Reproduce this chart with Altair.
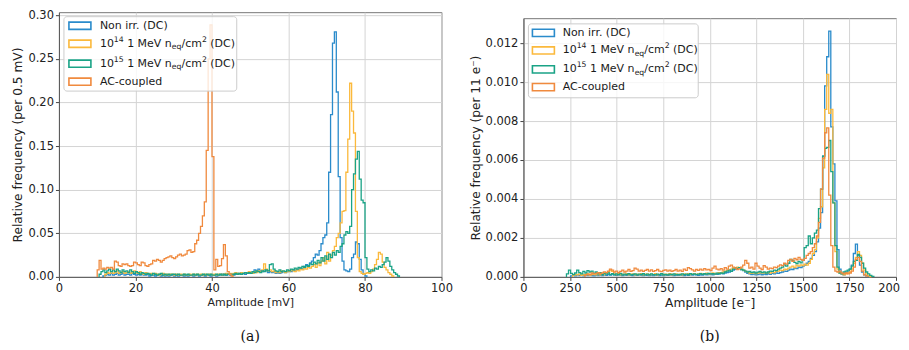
import altair as alt
import pandas as pd

# ---------------- data: left panel (bin width 0.5 mV, values in 1e-3) ----------------
LEFT_BIN = 0.5
LEFT_UNIT = 1e-3

NONIRR_L_START = 11.5
NONIRR_L = [1, 2, 3, 2, 4, 2, 3, 4, 2, 3, 4, 2, 3, 3, 2, 4, 3, 2, 3, 2, 3, 2, 2, 3, 1, 2, 2, 1, 2, 2,
            1, 2, 1, 2, 1, 2, 2, 1, 2, 1, 2, 2, 1, 2, 1, 2, 2, 1, 2, 2, 1, 2, 2, 1, 2, 2, 1, 2, 2, 1,
            2, 2, 3, 2, 2, 3, 2, 3, 2, 3, 4, 3, 3, 4, 3, 5, 4, 5, 6, 8, 6, 9, 7, 6, 8, 7, 5, 6, 5, 6,
            4, 5, 4, 5, 6, 5, 6, 7, 6, 8, 7, 8, 9, 10, 9, 12, 14, 13, 16, 18, 22, 26, 25, 30, 38, 45, 48, 62, 120, 186,
            268, 281, 212, 115, 45, 18, 8, 7, 6, 9, 22, 26, 40, 38, 20, 8, 3, 1]

E14_L_START = 12.0
E14_L = [3, 5, 4, 6, 4, 5, 7, 4, 5, 6, 4, 5, 6, 4, 5, 7, 5, 4, 6, 4, 3, 5, 4, 3, 4, 3, 4, 3, 2, 3,
         4, 2, 3, 2, 3, 3, 2, 3, 2, 3, 2, 3, 2, 2, 3, 2, 3, 2, 3, 2, 3, 2, 3, 2, 3, 3, 2, 3, 2, 3,
         3, 2, 3, 4, 3, 4, 3, 4, 5, 3, 4, 5, 4, 5, 4, 6, 5, 4, 6, 5, 7, 6, 8, 15, 9, 7, 8, 6, 7, 5,
         6, 5, 7, 6, 5, 7, 6, 8, 7, 6, 8, 7, 9, 8, 10, 9, 11, 10, 12, 14, 11, 16, 13, 18, 22, 15, 28, 18, 25, 30,
         35, 45, 50, 62, 75, 76, 120, 158, 222, 190, 165, 75, 22, 6, 4, 3, 4, 5, 4, 6, 9, 14, 20, 28, 26, 17,
         11, 8, 5, 3, 1]

E15_L_START = 10.5
E15_L = [3, 6, 8, 5, 7, 9, 6, 8, 6, 9, 7, 5, 8, 6, 7, 5, 8, 6, 4, 6, 5, 3, 5, 4, 3, 4, 3, 2, 4, 3,
         2, 3, 4, 2, 3, 2, 3, 2, 3, 3, 2, 3, 2, 2, 3, 2, 3, 2, 2, 3, 2, 3, 2, 2, 3, 2, 3, 2, 3, 2,
         2, 3, 2, 3, 2, 3, 2, 3, 3, 2, 3, 4, 3, 4, 3, 4, 5, 4, 5, 4, 6, 5, 7, 6, 5, 7, 6, 8, 7, 14,
         15, 9, 7, 6, 8, 6, 7, 6, 8, 7, 9, 8, 10, 9, 11, 10, 12, 11, 13, 12, 15, 14, 17, 15, 19, 16, 22, 18, 24, 20,
         26, 22, 28, 25, 30, 28, 35, 38, 48, 52, 50, 58, 100, 118, 135, 144, 112, 88, 85, 22, 9, 6, 8, 7, 10, 9,
         12, 11, 14, 17, 22, 18, 12, 8, 5, 3, 1]

AC_L_START = 10.0
AC_L = [8, 19, 9, 10, 9, 11, 10, 11, 9, 18, 17, 13, 12, 15, 14, 15, 13, 12, 13, 17, 16, 14, 13, 17, 16,
        13, 12, 14, 15, 19, 18, 20, 19, 17, 19, 21, 22, 23, 24, 22, 21, 23, 25, 26, 24, 25, 26, 30, 31, 28,
        29, 38, 42, 50, 58, 70, 86, 145, 250, 289, 138, 8, 20, 12, 13, 21, 37, 24, 6, 3, 1]

# ---------------- data: right panel (bin width 11 e-, values in 1e-5) ----------------
RIGHT_BIN = 11
RIGHT_UNIT = 1e-5

NONIRR_R_START = 253
NONIRR_R = [5, 8, 5, 10, 6, 8, 5, 9, 6, 10, 7, 5, 8, 6, 9, 7, 10, 8, 12, 9, 14, 10, 8, 11, 9,
            7, 10, 8, 12, 9, 7, 10, 8, 11, 9, 7, 10, 8, 6, 9, 7, 10, 8, 6, 9, 7, 10, 8, 11, 9,
            7, 10, 8, 12, 9, 7, 10, 8, 11, 9, 12, 10, 8, 11, 9, 13, 10, 12, 14, 11, 15, 13, 16, 18, 15,
            20, 22, 25, 30, 35, 40, 45, 42, 38, 32, 25, 18, 15, 12, 14, 10, 12, 15, 11, 14, 12, 16, 13, 18, 15,
            20, 18, 22, 25, 30, 28, 35, 40, 38, 45, 42, 50, 48, 55, 60, 70, 80, 95, 110, 130, 180, 250, 330, 620, 980,
            1130, 1262, 770, 580, 390, 140, 40, 15, 10, 20, 25, 40, 60, 120, 168, 110, 60, 25, 10, 5, 2]

E14_R_START = 264
E14_R = [8, 12, 10, 15, 8, 12, 10, 14, 9, 12, 15, 10, 13, 11, 15, 12, 18, 25, 35, 28, 15, 12, 16, 10, 14,
         12, 16, 11, 13, 15, 10, 14, 12, 16, 11, 13, 15, 10, 14, 12, 16, 11, 13, 15, 10, 14, 12, 16, 11, 13,
         15, 12, 14, 11, 15, 13, 16, 12, 14, 17, 13, 15, 18, 14, 16, 19, 15, 17, 20, 16, 18, 22, 20, 25, 28,
         32, 36, 40, 45, 48, 50, 46, 40, 35, 28, 24, 20, 18, 22, 17, 20, 24, 19, 22, 18, 24, 20, 26, 22, 28,
         30, 35, 32, 40, 38, 45, 50, 55, 48, 60, 55, 62, 58, 65, 60, 70, 90, 120, 140, 200, 300, 360, 560, 860, 1040,
         840, 860, 380, 130, 40, 20, 15, 10, 15, 20, 25, 40, 70, 100, 130, 110, 70, 35, 15, 5, 2]

E15_R_START = 231
E15_R = [15, 35, 18, 12, 20, 35, 22, 15, 28, 20, 32, 25, 30, 18, 25, 15, 22, 12, 18, 14, 20, 12, 16, 10, 15,
         12, 18, 10, 14, 12, 16, 10, 13, 15, 10, 14, 12, 16, 10, 14, 11, 15, 12, 10, 14, 12, 16, 11, 13, 10,
         14, 12, 15, 10, 13, 11, 15, 12, 14, 11, 16, 13, 15, 12, 14, 17, 13, 16, 14, 18, 15, 17, 14, 19, 16,
         20, 18, 25, 30, 35, 28, 40, 45, 42, 48, 38, 35, 30, 25, 28, 22, 25, 20, 24, 28, 22, 26, 20, 25, 30,
         28, 35, 32, 40, 45, 50, 62, 55, 70, 90, 85, 75, 68, 80, 72, 85, 150, 160, 210, 170, 200, 225, 240, 350, 450,
         620, 660, 665, 700, 540, 380, 160, 50, 20, 15, 25, 30, 35, 40, 55, 80, 85, 115, 100, 70, 45, 25, 15, 8, 3]

AC_R_START = 330
AC_R = [10, 15, 12, 20, 15, 18, 22, 16, 20, 25, 22, 30, 40, 35, 25, 30, 22, 28, 35, 25, 30, 38, 28, 32, 45,
        40, 30, 35, 28, 33, 38, 30, 36, 28, 32, 38, 30, 27, 33, 36, 30, 35, 28, 32, 38, 30, 35, 28, 40, 33,
        48, 42, 36, 30, 38, 33, 40, 35, 42, 36, 38, 32, 45, 55, 40, 36, 42, 35, 48, 40, 55, 60, 50, 45, 38,
        42, 50, 60, 85, 70, 45, 50, 40, 70, 55, 45, 38, 58, 50, 40, 45, 42, 50, 48, 55, 62, 58, 70, 65, 85,
        90, 80, 95, 88, 100, 90, 85, 95, 110, 120, 130, 150, 170, 210, 280, 450, 610, 740, 765, 420, 160, 50, 30, 25, 30,
        20, 15, 20, 15, 20, 30, 50, 90, 100, 80, 30, 10, 5]

SERIES = ["Non irr. (DC)", "1e14 (DC)", "1e15 (DC)", "AC-coupled"]
COLORS = ["#2a8bcb", "#fbb93c", "#1aa386", "#f08a3e"]

LEFT_DATA = [(NONIRR_L_START, NONIRR_L), (E14_L_START, E14_L), (E15_L_START, E15_L), (AC_L_START, AC_L)]
RIGHT_DATA = [(NONIRR_R_START, NONIRR_R), (E14_R_START, E14_R), (E15_R_START, E15_R), (AC_R_START, AC_R)]

# legend text pieces (main / superscript / subscript)
LEGEND_ROWS = [
    [("Non irr. (DC)", "main")],
    [("10", "main"), ("14", "sup"), (" 1 MeV n", "main"), ("eq", "sub"), ("/cm", "main"), ("2", "sup"), (" (DC)", "main")],
    [("10", "main"), ("15", "sup"), (" 1 MeV n", "main"), ("eq", "sub"), ("/cm", "main"), ("2", "sup"), (" (DC)", "main")],
    [("AC-coupled", "main")],
]

# DejaVu Sans advance widths (em) for legend layout
W = {' ': 0.318, '.': 0.318, '(': 0.390, ')': 0.390, '/': 0.337, '-': 0.361,
     'N': 0.748, 'D': 0.770, 'C': 0.698, 'M': 0.863, 'V': 0.684, 'A': 0.684,
     'o': 0.612, 'n': 0.634, 'i': 0.278, 'r': 0.411, 'e': 0.615, 'q': 0.635,
     'c': 0.550, 'm': 0.974, 'u': 0.634, 'p': 0.635, 'l': 0.278, 'd': 0.635}
for _d in "0123456789":
    W[_d] = 0.636

FONT = "DejaVu Sans"
FS_MAIN = 11
FS_SMALL = 7.7
PAD = {"left": 3, "top": 0, "right": 0, "bottom": 0}


def step_frame(start, width, vals, unit):
    xs = [start]
    ys = [0.0]
    for i, v in enumerate(vals):
        xs.append(start + i * width)
        ys.append(v * unit)
    xs.append(start + len(vals) * width)
    ys.append(0.0)
    return pd.DataFrame({"v": xs, "f": ys, "o": list(range(len(xs)))})


def legend_text(x0, row_ys):
    recs = []
    for pieces, y in zip(LEGEND_ROWS, row_ys):
        x = x0
        for txt, kind in pieces:
            fs = FS_MAIN if kind == "main" else FS_SMALL
            dy = {"main": 0, "sup": -4, "sub": 3.5}[kind]
            stripped = txt.lstrip(" ")
            x += (len(txt) - len(stripped)) * W[" "] * fs
            recs.append({"x": x, "y": y + dy, "t": stripped, "fs": fs})
            x += sum(W[c] for c in stripped) * fs
    return pd.DataFrame(recs)


def panel(data, bin_w, unit, xdom, ydom, xaxis, yaxis, w, h, caption, box, sym_x, text_x, row_ys):
    xenc = alt.X("v:Q", scale=alt.Scale(domain=xdom, nice=False, zero=False), axis=xaxis)
    yenc = alt.Y("f:Q", scale=alt.Scale(domain=ydom, nice=False, zero=False), axis=yaxis)
    layers = []
    for (start, vals), color in zip(data, COLORS):
        df = step_frame(start, bin_w, vals, unit)
        layers.append(
            alt.Chart(df).mark_line(interpolate="step-after", color=color, strokeWidth=1.3)
            .encode(x=xenc, y=yenc, order=alt.Order("o:Q"))
        )
    px = lambda f: alt.X(f, scale=None, axis=None)
    py = lambda f: alt.Y(f, scale=None, axis=None)
    box_df = pd.DataFrame({"x": [box[0]], "x2": [box[1]], "y": [box[2]], "y2": [box[3]]})
    layers.append(
        alt.Chart(box_df).mark_rect(fill="white", fillOpacity=0.8, stroke="#cccccc",
                                    strokeWidth=1, cornerRadius=3)
        .encode(x=px("x:Q"), x2="x2:Q", y=py("y:Q"), y2="y2:Q")
    )
    sym_df = pd.DataFrame({"x": [sym_x[0]] * 4, "x2": [sym_x[1]] * 4,
                           "y": [r - 3.6 for r in row_ys], "y2": [r + 3.6 for r in row_ys],
                           "c": COLORS})
    layers.append(
        alt.Chart(sym_df).mark_rect(fillOpacity=0, strokeWidth=1.6)
        .encode(x=px("x:Q"), x2="x2:Q", y=py("y:Q"), y2="y2:Q",
                stroke=alt.Stroke("c:N", scale=None, legend=None))
    )
    layers.append(
        alt.Chart(legend_text(text_x, row_ys)).mark_text(align="left", baseline="middle",
                                                         font=FONT, color="#1a1a1a")
        .encode(x=px("x:Q"), y=py("y:Q"), text="t:N",
                size=alt.Size("fs:Q", scale=None, legend=None))
    )
    cap_df = pd.DataFrame({"x": [w / 2], "y": [h + 60], "t": [caption]})
    layers.append(
        alt.Chart(cap_df).mark_text(align="center", baseline="middle", font="DejaVu Serif",
                                    fontSize=14, color="#111")
        .encode(x=px("x:Q"), y=py("y:Q"), text="t:N")
    )
    return alt.layer(*layers).properties(width=w, height=h)


left = panel(
    LEFT_DATA, LEFT_BIN, LEFT_UNIT, [0, 100], [0, 0.3035],
    alt.Axis(values=[0, 20, 40, 60, 80, 100], format="d", title="Amplitude [mV]",
             titleFontSize=11, labelFlush=False),
    alt.Axis(values=[0, 0.05, 0.10, 0.15, 0.20, 0.25, 0.30], format=".2f",
             title="Relative frequency (per 0.5 mV)", titleFontSize=12.2),
    383, 265, "(a)", (5, 178, 4.5, 79), (10, 32), 41, [13.6, 31.6, 51.6, 69.6])

right = panel(
    RIGHT_DATA, RIGHT_BIN, RIGHT_UNIT, [0, 2000], [0, 0.01328],
    alt.Axis(values=[0, 250, 500, 750, 1000, 1250, 1500, 1750, 2000], format="d",
             title="Amplitude [e\u207b]", titleFontSize=12.3, labelFlush=True, labelFlushOffset=3.6,
             labelExpr="datum.value == 2000 ? '200' : datum.label"),
    alt.Axis(values=[0, 0.002, 0.004, 0.006, 0.008, 0.010, 0.012], format=".3f",
             title="Relative frequency (per 11 e\u207b)", titleFontSize=12.2),
    373, 259, "(b)", (5, 175, 5.7, 79.7), (9, 31), 39.3, [14.7, 32.3, 51.3, 69.0])

# small invisible spacer that lowers the right panel relative to the left one
spacer = (
    alt.Chart(pd.DataFrame({"a": [0]}))
    .mark_point(opacity=0)
    .encode(x=alt.X("a:Q", axis=None), y=alt.Y("a:Q", axis=None))
    .properties(width=1, height=1, view=alt.ViewBackground(stroke="transparent"))
)
right_col = alt.vconcat(spacer, right, spacing=1)

chart = (
    alt.hconcat(left, right_col, spacing=15)
    .properties(padding=PAD)
    .configure_view(stroke="#777777", strokeWidth=1)
    .configure_axis(
        labelFont=FONT, labelFontSize=11.5, labelColor="#222222",
        titleFont=FONT, titleFontWeight="normal", titleColor="#222222",
        tickSize=3.5, tickColor="#444444", domainColor="#555555",
        gridColor="#d4d4d4", gridWidth=1, labelPadding=2, titlePadding=3,
    )
)

chart.save("out.html", embed_options={"renderer": "svg", "actions": False})
